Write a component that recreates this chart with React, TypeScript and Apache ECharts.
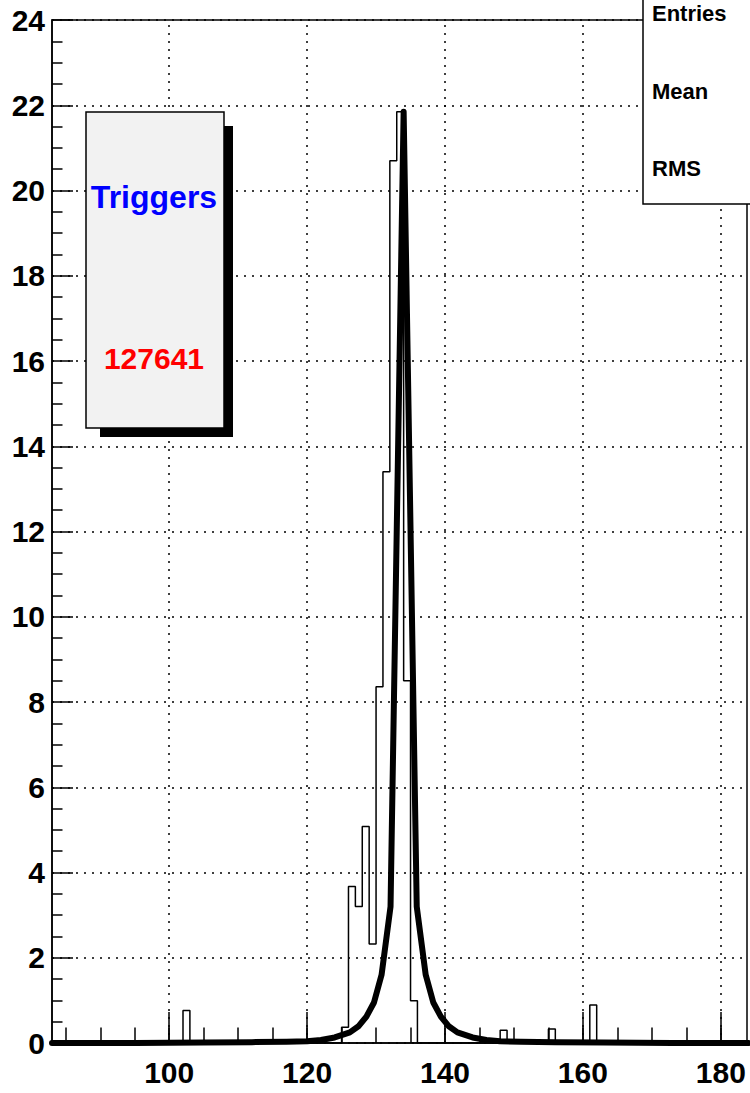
import React, { useEffect, useRef } from 'react';
import * as echarts from 'echarts';

// Axis ticks
const xMajorTicks = [100, 120, 140, 160, 180];
const xMinorTicks = [85, 90, 95, 100, 105, 110, 115, 120, 125, 130, 135, 140, 145, 150, 155, 160, 165, 170, 175, 180];
const xRange = [83, 183.8];
const yRange = [0, 24];

// Histogram: non-empty bins (low edge, width 1) and their contents
const histBinLow = [102, 125, 126, 127, 128, 129, 130, 131, 132, 133, 134, 135, 148, 155, 161];
const histBinValue = [0.76, 0.37, 3.67, 3.2, 5.08, 2.32, 8.36, 13.4, 20.7, 21.85, 8.5, 0.99, 0.3, 0.33, 0.89];
const histBinWidth = 1;

const fitX = [83, 95, 105, 112, 117, 120, 122, 124, 126.2, 127.5, 128.6, 129.7, 130.8, 132.1, 134.0, 135.9, 137.2, 138.3, 139.4, 140.5, 141.8, 144, 146, 148, 151, 156, 163, 173, 184];
const fitY = [0.0, 0.0, 0.01, 0.02, 0.03, 0.04, 0.07, 0.13, 0.25, 0.4, 0.62, 0.95, 1.6, 3.2, 21.85, 3.2, 1.6, 0.95, 0.62, 0.4, 0.25, 0.13, 0.07, 0.04, 0.03, 0.02, 0.01, 0.0, 0.0];

// Texts
const statsLabels = ['Entries', 'Mean', 'RMS'];
const triggersTitle = 'Triggers';
const triggersCount = '127641';

const FONT = 'Liberation Sans, Arial, Helvetica, sans-serif';

function buildHistOutline(): number[][] {
  const pts: number[][] = [[xRange[0], 0]];
  for (let i = 0; i < histBinLow.length; i++) {
    const lo = histBinLow[i];
    const hi = lo + histBinWidth;
    const v = histBinValue[i];
    const prevContiguous = i > 0 && histBinLow[i - 1] + histBinWidth === lo;
    const nextContiguous = i < histBinLow.length - 1 && histBinLow[i + 1] === hi;
    if (!prevContiguous) pts.push([lo, 0]);
    pts.push([lo, v]);
    pts.push([hi, v]);
    if (!nextContiguous) pts.push([hi, 0]);
  }
  pts.push([xRange[1], 0]);
  return pts;
}

export default function App() {
  const ref = useRef<HTMLDivElement>(null);
  useEffect(() => {
    if (!ref.current) return;
    const chart = echarts.init(ref.current, undefined, { renderer: 'svg' });
    const fitData = fitX.map((x, i) => [x, fitY[i]]);
    const labelStyle = { color: '#000', fontSize: 30, fontWeight: 'bold' as const, fontFamily: FONT };
    chart.setOption({
      animation: false,
      backgroundColor: '#fff',
      grid: {
        left: 52, top: 20, right: 3, bottom: 50,
        show: true, borderColor: '#000', borderWidth: 1.5, backgroundColor: 'transparent',
        containLabel: false,
      },
      xAxis: [
        {
          type: 'value', min: xRange[0], max: xRange[1], position: 'bottom',
          axisLine: { show: true, lineStyle: { color: '#000', width: 1.5 } },
          axisTick: { show: true, inside: true, length: 15.5, customValues: xMinorTicks, lineStyle: { color: '#000', width: 1.5 } },
          axisLabel: { show: false },
          splitLine: { show: false },
        },
        {
          type: 'value', min: xRange[0], max: xRange[1], position: 'bottom',
          axisLine: { show: false },
          axisTick: { show: true, inside: true, length: 31, customValues: xMajorTicks, lineStyle: { color: '#000', width: 1.5 } },
          axisLabel: { show: true, customValues: xMajorTicks, margin: 14, ...labelStyle },
          splitLine: { show: false },
        },
      ],
      yAxis: {
        type: 'value', min: yRange[0], max: yRange[1], interval: 2,
        axisLine: { show: true, lineStyle: { color: '#000', width: 1.5 } },
        axisTick: { show: true, inside: true, length: 21, lineStyle: { color: '#000', width: 1.5 } },
        minorTick: { show: true, splitNumber: 4, length: 10.5, lineStyle: { color: '#000', width: 1.5 } },
        axisLabel: { show: true, margin: 7, ...labelStyle },
        splitLine: { show: true, lineStyle: { color: '#000', width: 1.5, type: [2, 6] } },
      },
      series: [
        {
          type: 'line', xAxisIndex: 0, yAxisIndex: 0,
          data: buildHistOutline(),
          showSymbol: false, symbol: 'none', smooth: false,
          lineStyle: { color: '#000', width: 1.5 },
          silent: true,
          markLine: {
            silent: true, symbol: 'none', label: { show: false },
            lineStyle: { color: '#000', width: 1.5, type: [2, 6] },
            data: xMajorTicks.map((v) => ({ xAxis: v })),
          },
          z: 2,
        },
        {
          type: 'line', xAxisIndex: 0, yAxisIndex: 0,
          data: fitData,
          showSymbol: false, symbol: 'none', smooth: false,
          lineStyle: { color: '#000', width: 6, join: 'round', cap: 'round' },
          silent: true,
          z: 3,
        },
      ],
      graphic: [
        { type: 'rect', z: 100, shape: { x: 100, y: 126, width: 133, height: 311 }, style: { fill: '#000' } },
        { type: 'rect', z: 101, shape: { x: 86, y: 112, width: 138, height: 316 }, style: { fill: '#f2f2f2', stroke: '#000', lineWidth: 1.5 } },
        { type: 'text', z: 102, style: { text: triggersTitle, x: 154, y: 197, fill: '#0000ff', font: `bold 32px ${FONT}`, textAlign: 'center', textVerticalAlign: 'middle', align: 'center', verticalAlign: 'middle' } },
        { type: 'text', z: 102, style: { text: triggersCount, x: 154, y: 358, fill: '#ff0000', font: `bold 30px ${FONT}`, textAlign: 'center', textVerticalAlign: 'middle', align: 'center', verticalAlign: 'middle' } },
        { type: 'rect', z: 100, shape: { x: 643, y: -2, width: 120, height: 206 }, style: { fill: '#fff', stroke: '#000', lineWidth: 1.5 } },
        ...statsLabels.map((t, i) => ({
          type: 'text', z: 102,
          style: { text: t, x: 652, y: [13, 91, 168][i], fill: '#000', font: `bold 22px ${FONT}`, textAlign: 'left', textVerticalAlign: 'middle', align: 'left', verticalAlign: 'middle' },
        })),
      ],
    });
    return () => chart.dispose();
  }, []);
  return <div ref={ref} style={{ position: 'fixed', left: 0, top: 0, width: 750, height: 1093 }} />;
}
